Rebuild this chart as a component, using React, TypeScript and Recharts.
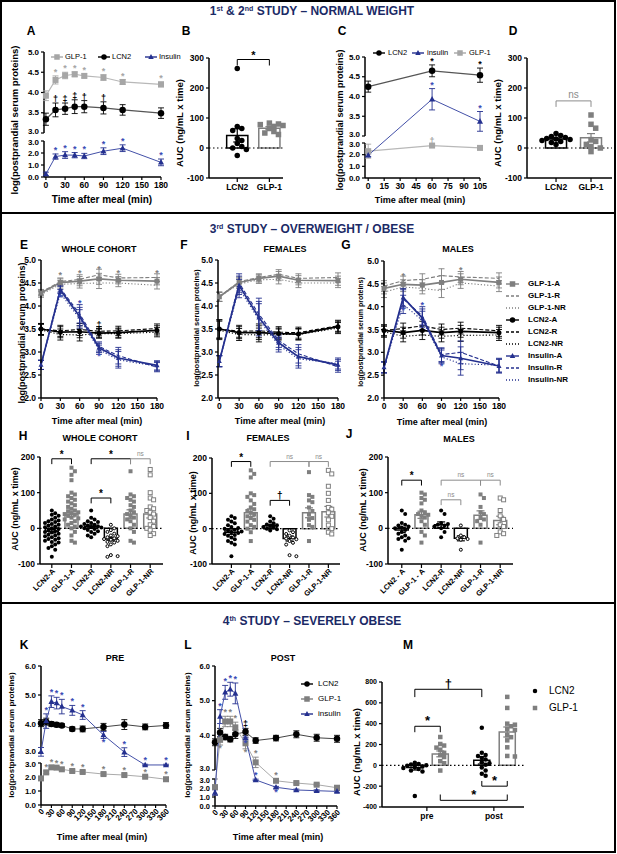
import React from 'react';
import {
  ComposedChart, ScatterChart, Line, Scatter, XAxis, YAxis, ErrorBar,
  ReferenceLine, ReferenceDot, ReferenceArea,
} from 'recharts';

const FONT = '"Liberation Sans", Arial, Helvetica, sans-serif';
const NAVY = '#24308f';
const NAVY_MARK = '#3a4bb5';
const HEAD = '#1b2a66';
const GREY = '#7f7f7f';
const LIGHT = '#a6a6a6';
const NS = '#8c8c8c';

// ---------- 1st & 2nd study ----------
const aTime = [0, 15, 30, 45, 60, 90, 120, 180];
const aXTicks = [0, 30, 60, 90, 120, 150, 180];
const aYLo = [0, 1, 2, 3];
const aYHi = [3, 3.5, 4, 4.5, 5];
const aGlp1 = [3.92, 4.31, 4.42, 4.45, 4.41, 4.37, 4.26, 4.2];
const aGlp1Err = [0.12, 0.1, 0.08, 0.06, 0.05, 0.07, 0.06, 0.06];
const aGlp1Sig = ['', '*', '*', '*', '*', '*', '*', '*'];
const aLcn2 = [3.34, 3.57, 3.6, 3.65, 3.65, 3.62, 3.57, 3.49];
const aLcn2Err = [0.15, 0.17, 0.14, 0.17, 0.15, 0.15, 0.13, 0.13];
const aLcn2Sig = ['', '†', '‡', '‡', '†', '†', '', ''];
const aIns = [0.25, 1.7, 1.83, 1.82, 1.75, 2.15, 2.4, 1.22];
const aInsErr = [0.15, 0.22, 0.28, 0.22, 0.22, 0.28, 0.28, 0.28];
const aInsSig = ['', '*', '*', '*', '*', '*', '*', '*'];

const aucGroups = ['LCN2', 'GLP-1'];
const aucTicks = [-100, 0, 100, 200, 300];
const bLcn2 = [265, 72, 65, 58, 32, 25, 15, 5, 0, -5, -25];
const bGlp1 = [83, 80, 78, 75, 72, 65, 55, 50, 45];
const bMean = [42, 66];
const bSem = [22, 5];

const cTime = [0, 60, 105];
const cXTicks = [0, 15, 30, 45, 60, 75, 90, 105];
const cLcn2 = [4.25, 4.65, 4.54];
const cLcn2Err = [0.14, 0.15, 0.18];
const cLcn2Sig = ['', '*', '*'];
const cIns = [1.95, 3.93, 3.37];
const cInsErr = [0.12, 0.27, 0.25];
const cInsSig = ['', '*', '*'];
const cGlp1 = [2.3, 2.78, 2.58];
const cGlp1Err = [0.6, 0.08, 0.06];
const cGlp1Sig = ['', '†', ''];

const dLcn2 = [48, 42, 38, 35, 32, 30, 28, 25, 22, 18, 12];
const dGlp1 = [110, 79, 66, 28, 22, 12, 5, 0, -12];
const dMean = [30, 34];
const dSem = [3, 14];

// ---------- 3rd study (A = all, R = responders, NR = non-responders) ----------
const oTime = [0, 30, 60, 90, 120, 180];
const oXTicks = [0, 30, 60, 90, 120, 150, 180];
const oYTicks = [2, 2.5, 3, 3.5, 4, 4.5, 5];

const eGlpA = [4.28, 4.51, 4.54, 4.59, 4.56, 4.54];
const eGlpR = [4.3, 4.53, 4.58, 4.68, 4.61, 4.62];
const eGlpNR = [4.25, 4.47, 4.49, 4.5, 4.5, 4.45];
const eLcnA = [3.5, 3.43, 3.44, 3.41, 3.42, 3.47];
const eLcnR = [3.5, 3.46, 3.49, 3.45, 3.46, 3.51];
const eLcnNR = [3.48, 3.38, 3.37, 3.4, 3.4, 3.43];
const eInsA = [2.72, 4.35, 3.77, 3.09, 2.87, 2.71];
const eInsR = [2.72, 4.38, 3.83, 3.12, 2.92, 2.67];
const eInsNR = [2.72, 4.28, 3.72, 3.05, 2.83, 2.69];
const eGlpErr = [0.06, 0.08, 0.1, 0.12, 0.08, 0.08];
const eLcnErr = [0.12, 0.12, 0.13, 0.1, 0.1, 0.1];
const eInsErr = [0.1, 0.08, 0.2, 0.1, 0.18, 0.1];
const eGlpSig = ['', '*', '*', '*', '*', '*'];
const eLcnSig = ['', '', '', '‡', '', ''];
const eInsSig = ['', '_*', '*', '_*', '', ''];

const fGlpA = [4.2, 4.51, 4.6, 4.65, 4.56, 4.55];
const fGlpR = [4.2, 4.53, 4.62, 4.69, 4.6, 4.62];
const fGlpNR = [4.2, 4.48, 4.57, 4.58, 4.5, 4.5];
const fLcnA = [3.5, 3.42, 3.42, 3.4, 3.39, 3.55];
const fLcnR = [3.5, 3.45, 3.46, 3.43, 3.42, 3.57];
const fLcnNR = [3.47, 3.38, 3.37, 3.38, 3.38, 3.52];
const fInsA = [2.8, 4.45, 3.75, 3.2, 2.9, 2.72];
const fInsR = [2.8, 4.5, 3.82, 3.25, 2.96, 2.68];
const fInsNR = [2.8, 4.38, 3.7, 3.15, 2.85, 2.75];
const fGlpErr = [0.1, 0.1, 0.08, 0.1, 0.1, 0.1];
const fLcnErr = [0.2, 0.13, 0.15, 0.12, 0.12, 0.12];
const fInsErr = [0.12, 0.2, 0.35, 0.15, 0.2, 0.12];

const gGlpA = [4.4, 4.49, 4.47, 4.53, 4.6, 4.53];
const gGlpR = [4.45, 4.57, 4.6, 4.68, 4.65, 4.62];
const gGlpNR = [4.32, 4.43, 4.4, 4.35, 4.52, 4.45];
const gLcnA = [3.48, 3.43, 3.48, 3.43, 3.46, 3.43];
const gLcnR = [3.48, 3.52, 3.58, 3.5, 3.53, 3.47];
const gLcnNR = [3.45, 3.35, 3.38, 3.35, 3.37, 3.38];
const gInsA = [2.67, 4.2, 3.75, 2.93, 2.87, 2.7];
const gInsR = [2.67, 4.17, 3.8, 2.95, 3.0, 2.7];
const gInsNR = [2.67, 4.05, 3.7, 2.9, 2.75, 2.72];
const gGlpErr = [0.12, 0.1, 0.12, 0.15, 0.12, 0.12];
const gLcnErr = [0.12, 0.12, 0.1, 0.12, 0.13, 0.12];
const gInsErr = [0.12, 0.2, 0.2, 0.15, 0.25, 0.15];
const gGlpSig = ['', '*', '', '', '*', ''];
const gInsSig = ['', '_*', '*', '_*', '', ''];

const subCats = ['LCN2-A', 'GLP-1-A', 'LCN2-R', 'LCN2-NR', 'GLP-1-R', 'GLP-1-NR'];
const subCatsMales = ['LCN2 - A', 'GLP-1 - A', 'LCN2-R', 'LCN2-NR', 'GLP-1-R', 'GLP-1-NR'];
const subTicks = [-100, 0, 100, 200];

const hLcnA = [50, 42, 38, 35, 30, 25, 22, 20, 18, 15, 12, 10, 8, 5, 3, 0, -2, -5, -8, -10, -12, -15, -18, -20, -22, -25, -28, -30, -32, -35, -38, -40, -45, -50, -55, -60, -80];
const hGlpA = [170, 160, 150, 135, 100, 95, 90, 85, 80, 75, 70, 65, 60, 55, 50, 48, 45, 42, 40, 38, 35, 30, 28, 25, 20, 15, 10, 5, 0, -10, -20, -35, -40];
const hLcnR = [50, 30, 25, 20, 18, 15, 12, 10, 8, 6, 5, 3, 2, 0, -2, -5, -8, -10, -15, -20, -25];
const hLcnNR = [10, 0, -5, -10, -15, -20, -22, -25, -28, -30, -32, -35, -38, -40, -45, -50, -75, -78, -80];
const hGlpR = [160, 95, 90, 85, 80, 75, 65, 60, 50, 45, 40, 35, 30, 25, 20, 10, 0, -10, -35, -40];
const hGlpNR = [165, 150, 100, 85, 80, 60, 55, 50, 45, 40, 30, 20, 10, 5, 0, -5, -15, -20];
const hMean = [-8, 40, 5, -30, 40, 40];
const hSem = [5, 8, 4, 5, 12, 11];

const iLcnA = [35, 30, 25, 20, 15, 10, 5, 2, 0, -3, -5, -8, -10, -12, -15, -18, -20, -25, -30, -35, -40, -45, -78];
const iGlpA = [165, 155, 145, 100, 95, 90, 80, 70, 60, 55, 50, 45, 40, 35, 30, 25, 20, 10, 5, 0, -10, -35];
const iLcnR = [35, 28, 20, 15, 12, 10, 8, 5, 3, 0, -2, -5];
const iLcnNR = [-5, -10, -15, -20, -25, -28, -30, -35, -40, -45, -75, -78];
const iGlpR = [160, 95, 90, 80, 75, 60, 50, 40, 30, 25, 10, 5, -35];
const iGlpNR = [165, 155, 120, 100, 80, 60, 55, 45, 35, 25, 10, 0, -10, -15];
const iMean = [-10, 45, 8, -28, 45, 48];
const iSem = [6, 11, 4, 7, 14, 15];

const jLcnA = [50, 40, 15, 10, 8, 5, 2, 0, -5, -10, -15, -20, -25, -28, -30, -35, -60];
const jGlpA = [100, 95, 85, 80, 70, 50, 45, 40, 38, 35, 30, 20, 10, -10, -20, -40];
const jLcnR = [50, 40, 15, 12, 10, 8, 5, 0, -10, -25];
const jLcnNR = [8, -20, -25, -28, -30, -32, -60];
const jGlpR = [95, 85, 60, 45, 40, 30, 25, 20, 10, -40];
const jGlpNR = [85, 80, 50, 35, 25, 10, 5, -10, -15, -20];
const jMean = [-5, 38, 10, -28, 37, 22];
const jSem = [7, 10, 8, 7, 12, 12];

// brackets: [group from, group to, level, tip end, label]
const hBrackets: [number, number, number, number, string][] = [[0, 1, 195, 180, '*'], [2, 4, 195, 180, '*'], [4, 5, 195, 180, 'ns'], [2, 3, 85, 70, '*']];
const iBrackets: [number, number, number, number, string][] = [[0, 1, 190, 175, '*'], [2, 4, 190, 175, 'ns'], [4, 5, 190, 175, 'ns'], [2, 3, 80, 65, '†']];
const jBrackets: [number, number, number, number, string][] = [[0, 1, 135, 120, '*'], [2, 4, 135, 120, 'ns'], [4, 5, 135, 120, 'ns'], [2, 3, 80, 65, 'ns']];
const bBrackets: [number, number, number, number, string][] = [[0, 1, 295, 275, '*']];
const dBrackets: [number, number, number, number, string][] = [[0, 1, 157, 137, 'ns']];

// ---------- 4th study ----------
const sTime = [0, 15, 30, 45, 60, 90, 120, 180, 240, 300, 360];
const sXTicks = [0, 30, 60, 90, 120, 150, 180, 210, 240, 270, 300, 330, 360];
const sYLo = [0, 1, 2, 3];
const sYHi = [3, 4, 5, 6];
const kLcn2 = [4.03, 4.08, 4.0, 3.97, 3.95, 3.83, 3.83, 3.9, 3.98, 3.9, 3.95];
const kLcn2Err = [0.12, 0.12, 0.08, 0.07, 0.06, 0.07, 0.1, 0.12, 0.17, 0.1, 0.1];
const kGlp1 = [1.9, 2.33, 2.69, 2.67, 2.55, 2.43, 2.36, 2.21, 2.14, 2.02, 1.84];
const kGlp1Err = [0.12, 0.1, 0.1, 0.08, 0.08, 0.08, 0.08, 0.08, 0.08, 0.08, 0.08];
const kGlp1Sig = ['', '*', '*', '*', '*', '*', '*', '*', '*', '*', '*'];
const kIns = [3.04, 4.1, 4.77, 4.72, 4.6, 4.47, 4.31, 3.62, 3.03, 2.86, 2.86];
const kInsErr = [0.15, 0.25, 0.2, 0.2, 0.25, 0.17, 0.15, 0.12, 0.15, 0.05, 0.05];
const kInsSig = ['', '*', '*', '*', '*', '*', '*', '_*', '*', '*', '*'];

const lLcn2 = [3.8, 4.08, 3.95, 3.89, 4.03, 4.1, 3.85, 3.92, 4.03, 3.93, 3.9];
const lLcn2Err = [0.1, 0.12, 0.08, 0.08, 0.12, 0.1, 0.08, 0.08, 0.1, 0.1, 0.1];
const lLcn2Sig = ['', '', '', '', '', '‡', '', '', '', '', ''];
const lGlp1 = [2.1, 3.87, 4.4, 4.4, 4.23, 3.77, 3.22, 2.8, 2.55, 2.37, 2.03];
const lGlp1Err = [0.9, 0.15, 0.15, 0.15, 0.15, 0.16, 0.15, 0.15, 0.1, 0.1, 0.1];
const lGlp1Sig = ['', '_*', '*', '*', '*', '_*', '*', '*', '', '', ''];
const lIns = [1.5, 4.54, 5.24, 5.33, 5.21, 3.92, 2.9, 2.08, 1.78, 1.7, 1.62];
const lInsErr = [0.3, 0.2, 0.2, 0.2, 0.3, 0.03, 0.08, 0.1, 0.1, 0.1, 0.1];
const lInsSig = ['', '*', '*', '*', '*', '_*', '*', '_*', '', '', ''];

const mCats = ['pre', 'post'];
const mTicks = [-400, -200, 0, 200, 400, 600, 800];
const mLcn2Pre = [25, 12, 8, 2, -5, -10, -18, -25, -35, -50, -60, -295];
const mGlp1Pre = [272, 205, 190, 170, 150, 120, 100, 80, 40, 20, -50];
const mLcn2Post = [362, 120, 100, 90, 70, 55, 30, 20, 5, -20, -50, -80, -100];
const mGlp1Post = [657, 551, 400, 390, 375, 350, 340, 290, 270, 240, 173, 90, 85];
const mMean = [-20, 110, 48, 320];
const mSem = [25, 28, 35, 48];
const mBrackets: [number, number, number, number, string][] = [[0, 2, 730, 655, '†'], [0, 1, 375, 318, '*'], [2, 3, -200, -150, '*'], [1, 3, -336, -280, '*']];

// ---------- helpers ----------
type Shape = 'circle' | 'square' | 'triangle';
type Box = { L: number; T: number; R: number; B: number };
type Axis = { domain: [number, number]; ticks: number[]; labels: string[]; nudge: number[]; at: (v: number, ref?: number) => number; lines: [number, number][] };
type Series = {
  key: string; color: string; y: number[]; err: number[];
  shape?: Shape; size?: number; dash?: string; width?: number; line?: string;
  sig?: string[]; sigColor?: string;
};

const PAD = 14;
const YW = 30;
const tickStyle = (size: number) => ({ fontSize: size, fontWeight: 700, fill: '#000' });
const AX = { stroke: '#000', strokeWidth: 1.5 };
const TL = { stroke: '#000', strokeWidth: 1.2 };

function frame(b: Box, xh: number) {
  return {
    style: { position: 'absolute' as const, left: b.L - YW, top: b.T - PAD },
    width: b.R - b.L + YW + PAD,
    height: b.B - b.T + PAD + xh,
    margin: { top: PAD, right: PAD, bottom: 0, left: 0 },
  };
}

// two-segment (broken) y axis, both segments linear
function brokenAxis(lo: number[], hi: number[], loPx: number, gapPx: number, hiPx: number): Axis {
  const l0 = lo[0], l1 = lo[lo.length - 1], h0 = hi[0], h1 = hi[hi.length - 1];
  const inLo = (v: number) => ((v - l0) / (l1 - l0)) * loPx;
  const inHi = (v: number) => loPx + gapPx + ((v - h0) / (h1 - h0)) * hiPx;
  return {
    domain: [0, loPx + gapPx + hiPx],
    ticks: [...lo.map(inLo), ...hi.map(inHi)],
    labels: [...lo, ...hi].map((v) => v.toFixed(1)),
    // push the two labels next to the break slightly apart
    nudge: [...lo.map((_, i) => (i === lo.length - 1 ? 1.5 : 0)), ...hi.map((_, i) => (i === 0 ? -1.5 : 0))],
    at: (v: number, ref = v) => (ref <= l1 ? inLo(v) : inHi(v)),
    lines: [[0, loPx], [loPx + gapPx, loPx + gapPx + hiPx]],
  };
}

function plainAxis(ticks: number[]): Axis {
  return {
    domain: [ticks[0], ticks[ticks.length - 1]],
    ticks,
    labels: ticks.map((v) => v.toFixed(1)),
    nudge: ticks.map(() => 0),
    at: (v: number) => v,
    lines: [[ticks[0], ticks[ticks.length - 1]]],
  };
}

function Mark({ shape, cx, cy, size, color, open }: { shape: Shape; cx: number; cy: number; size: number; color: string; open?: boolean }) {
  const h = size / 2;
  const fill = open ? '#fff' : color;
  const sw = open ? 1 : 0;
  if (shape === 'square') return <rect x={cx - h} y={cy - h} width={size} height={size} fill={fill} stroke={color} strokeWidth={sw} />;
  if (shape === 'triangle') return <polygon points={`${cx},${cy - h * 1.1} ${cx + h},${cy + h * 0.75} ${cx - h},${cy + h * 0.75}`} fill={fill} />;
  return <circle cx={cx} cy={cy} r={open ? h - 0.5 : h} fill={fill} stroke={color} strokeWidth={sw} />;
}

function rotTick(fmt: (v: number) => string, size: number) {
  return (p: any) => (
    <text x={p.x + 2} y={p.y} transform={`rotate(-45 ${p.x + 2} ${p.y})`} textAnchor="end" dominantBaseline="central" fontSize={size} fontWeight={700} fill="#000">
      {fmt(p.payload.value)}
    </text>
  );
}

function TimeChart({ box, time, xDomain, xTicks, axis, series, rotate = false, plain = false, yFont = 8.5 }: {
  box: Box; time: number[]; xDomain: [number, number]; xTicks: number[]; axis: Axis; series: Series[]; rotate?: boolean; plain?: boolean; yFont?: number;
}) {
  const xh = rotate ? 32 : 20;
  const f = frame(box, xh);
  const rows = time.map((t, i) => {
    const row: Record<string, any> = { t };
    series.forEach((s) => {
      const v = s.y[i];
      const e = s.err[i];
      const p = axis.at(v);
      row[s.key] = p;
      row[`${s.key}Err`] = [p - axis.at(v - e, v), axis.at(v + e, v) - p];
    });
    return row;
  });
  const tickIdx = (v: number) => axis.ticks.findIndex((t) => Math.abs(t - v) < 1e-6);
  const yTick = (p: any) => {
    const i = tickIdx(p.payload.value);
    return (
      <text x={p.x} y={p.y + (i < 0 ? 0 : axis.nudge[i])} textAnchor="end" dominantBaseline="central" fontSize={yFont} fontWeight={700} fill="#000">
        {i < 0 ? '' : axis.labels[i]}
      </text>
    );
  };
  const notes: React.ReactNode[] = [];
  series.forEach((s) => (s.sig ?? []).forEach((m, i) => {
    if (!m) return;
    const below = m.startsWith('_'); // '_' = mark sits under the point
    const v = s.y[i];
    const e = s.err[i];
    notes.push(
      <ReferenceDot key={`${s.key}n${i}`} x={time[i]} y={axis.at(below ? v - e : v + e, v)} r={0} fill="none" stroke="none" ifOverflow="visible"
        label={{ value: below ? m.slice(1) : m, position: below ? 'bottom' : 'top', offset: below ? 0 : 1, fill: s.sigColor ?? s.color, fontSize: 9, fontWeight: 700 }} />,
    );
  }));
  return (
    <div style={f.style}>
      <ComposedChart width={f.width} height={f.height} data={rows} margin={f.margin}>
        <XAxis dataKey="t" type="number" domain={xDomain} ticks={xTicks} interval={0} height={xh}
          tick={rotate ? rotTick((v) => String(v), 8) : tickStyle(8.5)} axisLine={AX} tickLine={TL} tickSize={3} tickMargin={2} />
        <YAxis type="number" domain={axis.domain} ticks={axis.ticks} interval={0} width={YW}
          tick={yTick} axisLine={plain ? AX : false} tickLine={TL} tickSize={3} tickMargin={2} />
        {!plain && axis.lines.map(([a, b], i) => (
          <ReferenceLine key={`ax${i}`} segment={[{ x: xDomain[0], y: a }, { x: xDomain[0], y: b }]} stroke="#000" strokeWidth={1.5} ifOverflow="visible" />
        ))}
        {series.map((s) => (
          <Line key={s.key} dataKey={s.key} type="linear" stroke={s.line ?? s.color} strokeWidth={s.width ?? 1.2} strokeDasharray={s.dash}
            isAnimationActive={false} activeDot={false}
            dot={s.shape ? (p: any) => <Mark key={`${s.key}d${p.index}`} shape={s.shape as Shape} cx={p.cx} cy={p.cy} size={s.size ?? 5} color={s.color} /> : false}>
            <ErrorBar dataKey={`${s.key}Err`} direction="y" width={3} stroke={s.color} strokeWidth={0.9} />
          </Line>
        ))}
        {notes}
      </ComposedChart>
    </div>
  );
}

type Group = { vals: number[]; mean: number; sem: number; color: string; shape: Shape; open?: boolean };

// spread equal-ish values sideways (layout only)
function swarm(vals: number[], pxY: number, d: number, slots: number): number[] {
  const order = vals.map((_, i) => i).sort((a, b) => vals[b] - vals[a]);
  const placed: [number, number][] = [];
  const out = vals.map(() => 0);
  for (const i of order) {
    const y = vals[i] * pxY;
    let best = 0;
    let bestGap = -1;
    for (let k = 0; k <= slots * 2; k++) {
      const x = (k % 2 ? (k + 1) / 2 : -k / 2) * d * 0.85;
      const gap = placed.reduce((m, [px, py]) => Math.min(m, Math.hypot(px - x, py - y)), Infinity);
      if (gap >= d * 0.9) { best = x; break; }
      if (gap > bestGap) { best = x; bestGap = gap; }
    }
    placed.push([best, y]);
    out[i] = best;
  }
  return out;
}

function bracketEls(x1: number, x2: number, y: number, tip: number, text: string, k: string, sigSize: number, nsSize: number) {
  const ns = text === 'ns';
  const col = ns ? NS : '#000';
  return [
    <ReferenceLine key={`${k}h`} segment={[{ x: x1, y }, { x: x2, y }]} stroke={col} strokeWidth={1} ifOverflow="visible" />,
    <ReferenceLine key={`${k}a`} segment={[{ x: x1, y }, { x: x1, y: tip }]} stroke={col} strokeWidth={1} ifOverflow="visible" />,
    <ReferenceLine key={`${k}b`} segment={[{ x: x2, y }, { x: x2, y: tip }]} stroke={col} strokeWidth={1} ifOverflow="visible" />,
    <ReferenceDot key={`${k}t`} x={(x1 + x2) / 2} y={y} r={0} fill="none" stroke="none" ifOverflow="visible"
      label={{ value: text, position: 'top', offset: ns ? 3 : 1, fill: col, fontSize: ns ? nsSize : sigSize, fontWeight: ns ? 400 : 700 }} />,
  ];
}

function AucChart({ box, xDomain, pos, ticks, tickLabels, yTicks, groups, brackets, dot, barHalf, slots, sigSize, nsSize, rotate = false, yFont = 8.5 }: {
  box: Box; xDomain: [number, number]; pos: number[]; ticks: number[]; tickLabels: string[]; yTicks: number[];
  groups: Group[]; brackets: [number, number, number, number, string][]; dot: number; barHalf: number; slots: number;
  sigSize: number; nsSize: number; rotate?: boolean; yFont?: number;
}) {
  const xh = rotate ? 40 : 20;
  const f = frame(box, xh);
  const pxX = (box.R - box.L) / (xDomain[1] - xDomain[0]);
  const pxY = (box.B - box.T) / (yTicks[yTicks.length - 1] - yTicks[0]);
  const fmt = (v: number) => tickLabels[ticks.indexOf(v)] ?? '';
  return (
    <div style={f.style}>
      <ScatterChart width={f.width} height={f.height} margin={f.margin}>
        <XAxis type="number" dataKey="x" domain={xDomain} ticks={ticks} interval={0} tickFormatter={fmt} height={xh}
          tick={rotate ? rotTick(fmt, 7.5) : tickStyle(8.5)} axisLine={AX} tickLine={TL} tickSize={4} tickMargin={2} />
        <YAxis type="number" dataKey="y" domain={[yTicks[0], yTicks[yTicks.length - 1]]} ticks={yTicks} interval={0} width={YW}
          tick={tickStyle(yFont)} axisLine={AX} tickLine={TL} tickSize={3} tickMargin={2} />
        <ReferenceLine y={0} stroke="#000" strokeWidth={1.2} strokeDasharray="1.5 2.5" />
        {groups.map((g, i) => (
          <ReferenceArea key={`bar${i}`} x1={pos[i] - barHalf} x2={pos[i] + barHalf} y1={0} y2={g.mean}
            fill="#fff" fillOpacity={0} stroke={g.color} strokeWidth={1.5} ifOverflow="visible" />
        ))}
        {groups.map((g, i) => {
          const off = swarm(g.vals, pxY, dot, slots);
          const pts = g.vals.map((v, j) => ({ x: pos[i] + off[j] / pxX, y: v }));
          return (
            <Scatter key={`pts${i}`} data={pts} isAnimationActive={false}
              shape={(p: any) => <Mark shape={g.shape} cx={p.cx} cy={p.cy} size={dot} color={g.color} open={g.open} />} />
          );
        })}
        {groups.map((g, i) => (
          <Scatter key={`mean${i}`} data={[{ x: pos[i], y: g.mean, e: g.sem }]} isAnimationActive={false} shape={() => <g />}>
            <ErrorBar dataKey="e" direction="y" width={4} stroke={g.color} strokeWidth={1.2} />
          </Scatter>
        ))}
        {brackets.flatMap((b, k) => bracketEls(pos[b[0]], pos[b[1]], b[2], b[3], b[4], `br${k}`, sigSize, nsSize))}
      </ScatterChart>
    </div>
  );
}

function Txt({ x, y, size, children, color = '#000', weight = 700, rotate = false }: {
  x: number; y: number; size: number; children: React.ReactNode; color?: string; weight?: number; rotate?: boolean;
}) {
  return (
    <div style={{
      position: 'absolute', left: x, top: y, transform: `translate(-50%, -50%)${rotate ? ' rotate(-90deg)' : ''}`,
      fontSize: size, fontWeight: weight, color, whiteSpace: 'nowrap', lineHeight: 1,
    }}>{children}</div>
  );
}

type LegendEntry = { label: string; color: string; shape?: Shape; dash?: string };

function LegendItem({ cx, cy, half, tx, e, size, weight }: { cx: number; cy: number; half: number; tx: number; e: LegendEntry; size: number; weight: number }) {
  const w = Math.max(half, 5) * 2 + 2;
  return (
    <>
      <svg style={{ position: 'absolute', left: cx - w / 2, top: cy - 6 }} width={w} height={12}>
        {half > 0 && <line x1={w / 2 - half} x2={w / 2 + half} y1={6} y2={6} stroke={e.color} strokeWidth={1.4} strokeDasharray={e.dash} />}
        {e.shape && <Mark shape={e.shape} cx={w / 2} cy={6} size={half > 0 ? 5.5 : 4.5} color={e.color} />}
      </svg>
      <div style={{ position: 'absolute', left: cx + tx, top: cy, transform: 'translateY(-50%)', fontSize: size, fontWeight: weight, whiteSpace: 'nowrap', lineHeight: 1 }}>
        {e.label}
      </div>
    </>
  );
}

function trio(name: string, color: string, shape: Shape, a: number[], r: number[], nr: number[], err: number[], sig?: string[], sigColor?: string): Series[] {
  return [
    { key: `${name}R`, color, y: r, err, dash: '4 2', width: 1.1 },
    { key: `${name}NR`, color, y: nr, err, dash: '1.2 2', width: 1.1 },
    { key: `${name}A`, color, y: a, err, shape, size: 5, width: 1.7, sig, sigColor },
  ];
}

const sup = { fontSize: 7, position: 'relative' as const, top: -4 };
const frameBox = (top: number, height: number) => ({
  position: 'absolute' as const, left: 0, top, width: 616, height, border: '2px solid #000', boxSizing: 'border-box' as const,
});

const aAxis = brokenAxis(aYLo, aYHi, 36, 8, 81);
const cAxis = brokenAxis(aYLo, aYHi, 35, 7, 79);
const oAxis = plainAxis(oYTicks);
const kAxis = brokenAxis(sYLo, sYHi, 42, 10, 87);
const lAxis = brokenAxis(sYLo, sYHi, 27, 9, 104);

const LOGY = 'log(postprandial serum proteins)';
const AUCY = 'AUC (ng/mL x time)';
const TIME = 'Time after meal (min)';

function subGroups(v: number[][], mean: number[], sem: number[]): Group[] {
  const style: [string, Shape, boolean][] = [['#000', 'circle', false], [GREY, 'square', false], ['#000', 'circle', false], ['#000', 'circle', true], [GREY, 'square', false], [GREY, 'square', true]];
  return v.map((vals, i) => ({ vals, mean: mean[i], sem: sem[i], color: style[i][0], shape: style[i][1], open: style[i][2] }));
}

export default function App() {
  const oLegend: LegendEntry[] = [
    { label: 'GLP-1-A', color: GREY, shape: 'square' },
    { label: 'GLP-1-R', color: GREY, dash: '3 2' },
    { label: 'GLP-1-NR', color: GREY, dash: '1 2' },
    { label: 'LCN2-A', color: '#000', shape: 'circle' },
    { label: 'LCN2-R', color: '#000', dash: '3 2' },
    { label: 'LCN2-NR', color: '#000', dash: '1 2' },
    { label: 'Insulin-A', color: NAVY, shape: 'triangle' },
    { label: 'Insulin-R', color: NAVY, dash: '3 2' },
    { label: 'Insulin-NR', color: NAVY, dash: '1 2' },
  ];
  const subPos = [1, 2, 3, 4, 5, 6];
  const mPos = [1 - 0.18, 1 + 0.2, 2 - 0.18, 2 + 0.2];

  return (
    <div style={{ position: 'absolute', left: 0, top: 0, width: 617, height: 854, background: '#fff', fontFamily: FONT, overflow: 'hidden', color: '#000' }}>
      <div style={frameBox(0, 214)} />
      <div style={frameBox(212, 392)} />
      <div style={frameBox(602, 251)} />

      {/* A */}
      <TimeChart box={{ L: 44, T: 52, R: 161, B: 177 }} time={aTime} xDomain={[-3, 180]} xTicks={aXTicks} axis={aAxis} yFont={8}
        series={[
          { key: 'glp', color: LIGHT, line: '#b8b8b8', y: aGlp1, err: aGlp1Err, shape: 'square', size: 6, sig: aGlp1Sig },
          { key: 'lcn', color: '#000', line: '#555', y: aLcn2, err: aLcn2Err, shape: 'circle', size: 6.5, sig: aLcn2Sig },
          { key: 'ins', color: NAVY, line: '#4350a8', y: aIns, err: aInsErr, shape: 'triangle', size: 6, width: 1, sig: aInsSig, sigColor: NAVY_MARK },
        ]} />
      {/* B */}
      <AucChart box={{ L: 209, T: 58, R: 283, B: 178 }} xDomain={[0.12, 2.36]} pos={[1, 2]} ticks={[1, 2]} tickLabels={aucGroups} yTicks={aucTicks}
        groups={[
          { vals: bLcn2, mean: bMean[0], sem: bSem[0], color: '#000', shape: 'circle' },
          { vals: bGlp1, mean: bMean[1], sem: bSem[1], color: GREY, shape: 'square' },
        ]} brackets={bBrackets} dot={5.5} barHalf={0.33} slots={3} sigSize={11} nsSize={10} />
      {/* C */}
      <TimeChart box={{ L: 365, T: 57, R: 480, B: 178 }} time={cTime} xDomain={[-3, 105]} xTicks={cXTicks} axis={cAxis} yFont={8}
        series={[
          { key: 'glp', color: LIGHT, line: '#b8b8b8', y: cGlp1, err: cGlp1Err, shape: 'square', size: 6, sig: cGlp1Sig },
          { key: 'lcn', color: '#000', line: '#555', y: cLcn2, err: cLcn2Err, shape: 'circle', size: 6.5, sig: cLcn2Sig },
          { key: 'ins', color: NAVY, line: '#4350a8', y: cIns, err: cInsErr, shape: 'triangle', size: 6, width: 1, sig: cInsSig, sigColor: NAVY_MARK },
        ]} />
      {/* D */}
      <AucChart box={{ L: 527, T: 58, R: 612, B: 178 }} xDomain={[0.17, 2.6]} pos={[1, 2]} ticks={[1, 2]} tickLabels={aucGroups} yTicks={aucTicks}
        groups={[
          { vals: dLcn2, mean: dMean[0], sem: dSem[0], color: '#000', shape: 'circle' },
          { vals: dGlp1, mean: dMean[1], sem: dSem[1], color: GREY, shape: 'square' },
        ]} brackets={dBrackets} dot={5.5} barHalf={0.3} slots={3} sigSize={11} nsSize={10} />

      {/* E F G */}
      <TimeChart box={{ L: 41, T: 260, R: 157, B: 398 }} time={oTime} xDomain={[0, 180]} xTicks={oXTicks} axis={oAxis} plain
        series={[
          ...trio('glp', GREY, 'square', eGlpA, eGlpR, eGlpNR, eGlpErr, eGlpSig),
          ...trio('lcn', '#000', 'circle', eLcnA, eLcnR, eLcnNR, eLcnErr, eLcnSig),
          ...trio('ins', NAVY, 'triangle', eInsA, eInsR, eInsNR, eInsErr, eInsSig, NAVY_MARK),
        ]} />
      <TimeChart box={{ L: 218, T: 260, R: 338, B: 398 }} time={oTime} xDomain={[-2, 180]} xTicks={oXTicks} axis={oAxis} plain
        series={[
          ...trio('glp', GREY, 'square', fGlpA, fGlpR, fGlpNR, fGlpErr),
          ...trio('lcn', '#000', 'circle', fLcnA, fLcnR, fLcnNR, fLcnErr),
          ...trio('ins', NAVY, 'triangle', fInsA, fInsR, fInsNR, fInsErr),
        ]} />
      <TimeChart box={{ L: 384, T: 261, R: 499, B: 398 }} time={oTime} xDomain={[0, 180]} xTicks={oXTicks} axis={oAxis} plain
        series={[
          ...trio('glp', GREY, 'square', gGlpA, gGlpR, gGlpNR, gGlpErr, gGlpSig),
          ...trio('lcn', '#000', 'circle', gLcnA, gLcnR, gLcnNR, gLcnErr),
          ...trio('ins', NAVY, 'triangle', gInsA, gInsR, gInsNR, gInsErr, gInsSig, NAVY_MARK),
        ]} />

      {/* H I J */}
      <AucChart box={{ L: 40, T: 457, R: 163, B: 564 }} xDomain={[0.4, 6.65]} pos={subPos} ticks={subPos} tickLabels={subCats} yTicks={subTicks}
        groups={subGroups([hLcnA, hGlpA, hLcnR, hLcnNR, hGlpR, hGlpNR], hMean, hSem)} brackets={hBrackets}
        dot={4} barHalf={0.33} slots={3} sigSize={10} nsSize={6.5} rotate />
      <AucChart box={{ L: 212, T: 458, R: 340, B: 564 }} xDomain={[0, 6.6]} pos={subPos} ticks={subPos} tickLabels={subCats} yTicks={subTicks}
        groups={subGroups([iLcnA, iGlpA, iLcnR, iLcnNR, iGlpR, iGlpNR], iMean, iSem)} brackets={iBrackets}
        dot={4} barHalf={0.33} slots={3} sigSize={10} nsSize={6.5} rotate />
      <AucChart box={{ L: 388, T: 457, R: 513, B: 564 }} xDomain={[0.3, 6.65]} pos={subPos} ticks={subPos} tickLabels={subCatsMales} yTicks={subTicks}
        groups={subGroups([jLcnA, jGlpA, jLcnR, jLcnNR, jGlpR, jGlpNR], jMean, jSem)} brackets={jBrackets}
        dot={4} barHalf={0.33} slots={3} sigSize={10} nsSize={6.5} rotate />

      {/* K L M */}
      <TimeChart box={{ L: 41, T: 666, R: 166, B: 805 }} time={sTime} xDomain={[0, 360]} xTicks={sXTicks} axis={kAxis} rotate yFont={8}
        series={[
          { key: 'glp', color: GREY, y: kGlp1, err: kGlp1Err, shape: 'square', size: 6, width: 1, line: '#aaa', sig: kGlp1Sig },
          { key: 'lcn', color: '#000', line: '#444', y: kLcn2, err: kLcn2Err, shape: 'circle', size: 6.5, width: 1 },
          { key: 'ins', color: NAVY, line: '#4350a8', y: kIns, err: kInsErr, shape: 'triangle', size: 6, width: 1, sig: kInsSig, sigColor: NAVY_MARK },
        ]} />
      <TimeChart box={{ L: 215, T: 666, R: 337, B: 806 }} time={sTime} xDomain={[0, 360]} xTicks={sXTicks} axis={lAxis} rotate yFont={7.5}
        series={[
          { key: 'lcn', color: '#000', line: '#444', y: lLcn2, err: lLcn2Err, shape: 'circle', size: 6.5, width: 1, sig: lLcn2Sig },
          { key: 'glp', color: GREY, y: lGlp1, err: lGlp1Err, shape: 'square', size: 6, width: 1, line: '#aaa', sig: lGlp1Sig },
          { key: 'ins', color: NAVY, line: '#4350a8', y: lIns, err: lInsErr, shape: 'triangle', size: 6, width: 1, sig: lInsSig, sigColor: NAVY_MARK },
        ]} />
      <AucChart box={{ L: 382, T: 682, R: 524, B: 807 }} xDomain={[0.33, 2.45]} pos={mPos} ticks={[1, 2]} tickLabels={mCats} yTicks={mTicks}
        groups={[
          { vals: mLcn2Pre, mean: mMean[0], sem: mSem[0], color: '#000', shape: 'circle' },
          { vals: mGlp1Pre, mean: mMean[1], sem: mSem[1], color: GREY, shape: 'square' },
          { vals: mLcn2Post, mean: mMean[2], sem: mSem[2], color: '#000', shape: 'circle' },
          { vals: mGlp1Post, mean: mMean[3], sem: mSem[3], color: GREY, shape: 'square' },
        ]} brackets={mBrackets} dot={4.5} barHalf={0.12} slots={3} sigSize={13} nsSize={8} yFont={7} />

      {/* section titles */}
      <Txt x={312} y={11} size={12} color={HEAD}>1<span style={sup}>st</span> &amp; 2<span style={sup}>nd</span> STUDY – NORMAL WEIGHT</Txt>
      <Txt x={312} y={229} size={12} color={HEAD}>3<span style={sup}>rd</span> STUDY – OVERWEIGHT / OBESE</Txt>
      <Txt x={312} y={621} size={12} color={HEAD}>4<span style={sup}>th</span> STUDY – SEVERELY OBESE</Txt>

      {/* panel letters */}
      {([['A', 31, 31], ['B', 186, 31], ['C', 342, 31], ['D', 513, 31], ['E', 24, 245], ['F', 184, 245], ['G', 346, 245],
        ['H', 23, 436], ['I', 188, 436], ['J', 349, 434], ['K', 24, 645], ['L', 188, 645], ['M', 408, 645]] as [string, number, number][]).map(([t, x, y]) => (
        <Txt key={t} x={x} y={y} size={12}>{t}</Txt>
      ))}

      {/* panel subtitles */}
      <Txt x={99} y={249} size={9}>WHOLE COHORT</Txt>
      <Txt x={285} y={249} size={9}>FEMALES</Txt>
      <Txt x={458} y={249} size={9}>MALES</Txt>
      <Txt x={100} y={438} size={9}>WHOLE COHORT</Txt>
      <Txt x={268} y={438} size={9}>FEMALES</Txt>
      <Txt x={459} y={439} size={9}>MALES</Txt>
      <Txt x={115} y={658} size={9}>PRE</Txt>
      <Txt x={283} y={658} size={9}>POST</Txt>

      {/* axis titles */}
      <Txt x={102} y={200} size={10}>{TIME}</Txt>
      <Txt x={420} y={200} size={9}>{TIME}</Txt>
      <Txt x={97} y={421} size={9}>{TIME}</Txt>
      <Txt x={280} y={421} size={9}>{TIME}</Txt>
      <Txt x={442} y={422} size={9}>{TIME}</Txt>
      <Txt x={102} y={837} size={9}>{TIME}</Txt>
      <Txt x={278} y={837} size={9}>{TIME}</Txt>

      <Txt x={15} y={120} size={9.5} rotate>{LOGY}</Txt>
      <Txt x={340} y={120} size={9} rotate>{LOGY}</Txt>
      <Txt x={22} y={333} size={9} rotate>{LOGY}</Txt>
      <Txt x={197} y={328} size={7.5} rotate>{LOGY}</Txt>
      <Txt x={360} y={332} size={7} rotate>{LOGY}</Txt>
      <Txt x={12} y={735} size={8} rotate>{LOGY}</Txt>
      <Txt x={188} y={735} size={8} rotate>{LOGY}</Txt>
      <Txt x={180} y={123} size={9.5} rotate>{AUCY}</Txt>
      <Txt x={498} y={123} size={9.5} rotate>{AUCY}</Txt>
      <Txt x={15} y={509} size={9} rotate>{AUCY}</Txt>
      <Txt x={193} y={513} size={9} rotate>{AUCY}</Txt>
      <Txt x={363} y={510} size={9} rotate>{AUCY}</Txt>
      <Txt x={357} y={752} size={9.5} rotate>{AUCY}</Txt>

      {/* legends */}
      {([{ label: 'GLP-1', color: LIGHT, shape: 'square' }, { label: 'LCN2', color: '#000', shape: 'circle' }, { label: 'Insulin', color: NAVY, shape: 'triangle' }] as LegendEntry[]).map((e, i) => (
        <LegendItem key={`la${i}`} cx={[57, 104, 151][i]} cy={57} half={6} tx={8} e={e} size={7.5} weight={400} />
      ))}
      {([{ label: 'LCN2', color: '#000', shape: 'circle' }, { label: 'insulin', color: NAVY, shape: 'triangle' }, { label: 'GLP-1', color: LIGHT, shape: 'square' }] as LegendEntry[]).map((e, i) => (
        <LegendItem key={`lc${i}`} cx={[379, 418, 460][i]} cy={53} half={6} tx={9} e={e} size={7.5} weight={400} />
      ))}
      {oLegend.map((e, i) => (
        <LegendItem key={`lg${i}`} cx={512} cy={284 + i * 12} half={6.5} tx={16} e={e} size={8} weight={700} />
      ))}
      {([{ label: 'LCN2', color: '#000', shape: 'circle' }, { label: 'GLP-1', color: GREY, shape: 'square' }, { label: 'insulin', color: NAVY, shape: 'triangle' }] as LegendEntry[]).map((e, i) => (
        <LegendItem key={`ll${i}`} cx={307} cy={684 + i * 15} half={6} tx={11} e={e} size={8} weight={400} />
      ))}
      {([{ label: 'LCN2', color: '#000', shape: 'circle' }, { label: 'GLP-1', color: GREY, shape: 'square' }] as LegendEntry[]).map((e, i) => (
        <LegendItem key={`lm${i}`} cx={535} cy={691 + i * 17} half={0} tx={14} e={e} size={10} weight={400} />
      ))}
    </div>
  );
}
